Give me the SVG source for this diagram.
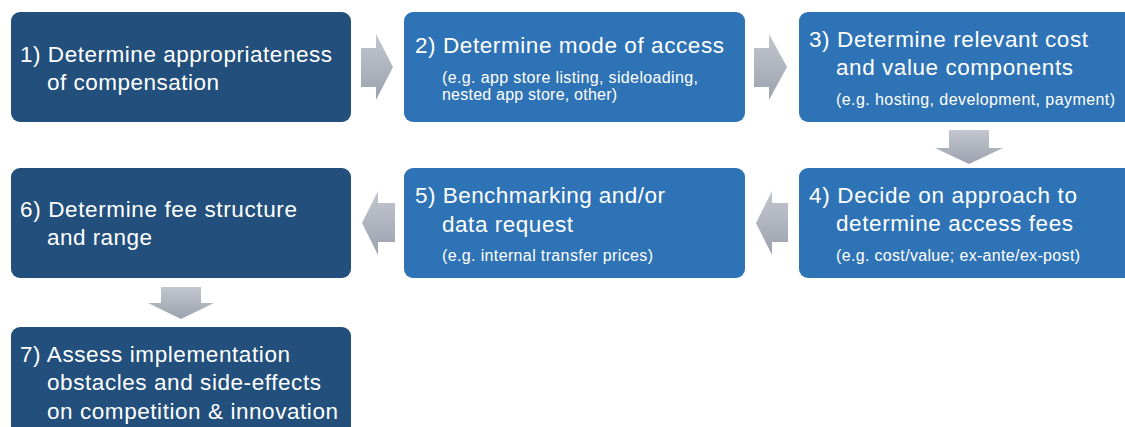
<svg xmlns="http://www.w3.org/2000/svg" width="1125" height="427" viewBox="0 0 1125 427">
<defs>
<linearGradient id="ag" x1="0" y1="0" x2="0" y2="1">
<stop offset="0" stop-color="#C2C6CE"/>
<stop offset="1" stop-color="#9CA2AE"/>
</linearGradient>
<style>
.dark{fill:#224F7B}
.blue{fill:#2E73B5}
.t{font-family:"Liberation Sans",Arial,sans-serif;font-size:22.5px;fill:#FFFFFF}
.s{font-family:"Liberation Sans",Arial,sans-serif;font-size:16px;fill:#FFFFFF}
.arr{fill:url(#ag)}
</style>
</defs>
<rect width="1125" height="427" fill="#FFFFFF"/>
<g id="node1">
<rect class="dark" x="11" y="12" width="340" height="110" rx="9"/>
<text class="t" x="20" y="62" textLength="312" lengthAdjust="spacing">1) Determine appropriateness</text>
<text class="t" x="47" y="90" textLength="172" lengthAdjust="spacing">of compensation</text>
</g>
<g id="node2">
<rect class="blue" x="404" y="12" width="341" height="110" rx="9"/>
<text class="t" x="415" y="53" textLength="309" lengthAdjust="spacing">2) Determine mode of access</text>
<text class="s" x="442" y="83" textLength="256" lengthAdjust="spacing">(e.g. app store listing, sideloading,</text>
<text class="s" x="442" y="100" textLength="175" lengthAdjust="spacing">nested app store, other)</text>
</g>
<g id="node3">
<rect class="blue" x="799" y="12" width="345" height="110" rx="9"/>
<text class="t" x="809" y="47" textLength="279" lengthAdjust="spacing">3) Determine relevant cost</text>
<text class="t" x="836" y="75" textLength="237" lengthAdjust="spacing">and value components</text>
<text class="s" x="836" y="105" textLength="279" lengthAdjust="spacing">(e.g. hosting, development, payment)</text>
</g>
<g id="node4">
<rect class="blue" x="799" y="168" width="345" height="110" rx="9"/>
<text class="t" x="809" y="203" textLength="268" lengthAdjust="spacing">4) Decide on approach to</text>
<text class="t" x="836" y="231" textLength="237" lengthAdjust="spacing">determine access fees</text>
<text class="s" x="836" y="261" textLength="244" lengthAdjust="spacing">(e.g. cost/value; ex-ante/ex-post)</text>
</g>
<g id="node5">
<rect class="blue" x="404" y="168" width="341" height="110" rx="9"/>
<text class="t" x="415" y="203" textLength="250" lengthAdjust="spacing">5) Benchmarking and/or</text>
<text class="t" x="442" y="232" textLength="131" lengthAdjust="spacing">data request</text>
<text class="s" x="442" y="261" textLength="211" lengthAdjust="spacing">(e.g. internal transfer prices)</text>
</g>
<g id="node6">
<rect class="dark" x="11" y="168" width="340" height="110" rx="9"/>
<text class="t" x="20" y="217" textLength="277" lengthAdjust="spacing">6) Determine fee structure</text>
<text class="t" x="47" y="245" textLength="105" lengthAdjust="spacing">and range</text>
</g>
<g id="node7">
<rect class="dark" x="11" y="327" width="340" height="120" rx="9"/>
<text class="t" x="20" y="362" textLength="270" lengthAdjust="spacing">7) Assess implementation</text>
<text class="t" x="47" y="390" textLength="274" lengthAdjust="spacing">obstacles and side-effects</text>
<text class="t" x="47" y="419" textLength="291" lengthAdjust="spacing">on competition &amp; innovation</text>
</g>
<g id="connectors">
<polygon class="arr" points="361,48 376,48 376,34 393,67 376,100 376,87 361,87"/>
<polygon class="arr" points="754,48 769,48 769,34 787,67 769,100 769,87 754,87"/>
<polygon class="arr" points="949,130 989,130 989,148 1003,148 969,164 935,148 949,148"/>
<polygon class="arr" points="788,203 772,203 772,191 756,223 772,255 772,242 788,242"/>
<polygon class="arr" points="395,203 378,203 378,191 362,223 378,255 378,242 395,242"/>
<polygon class="arr" points="161,287 201,287 201,303 214,303 181,319 148,303 161,303"/>
</g>
</svg>
